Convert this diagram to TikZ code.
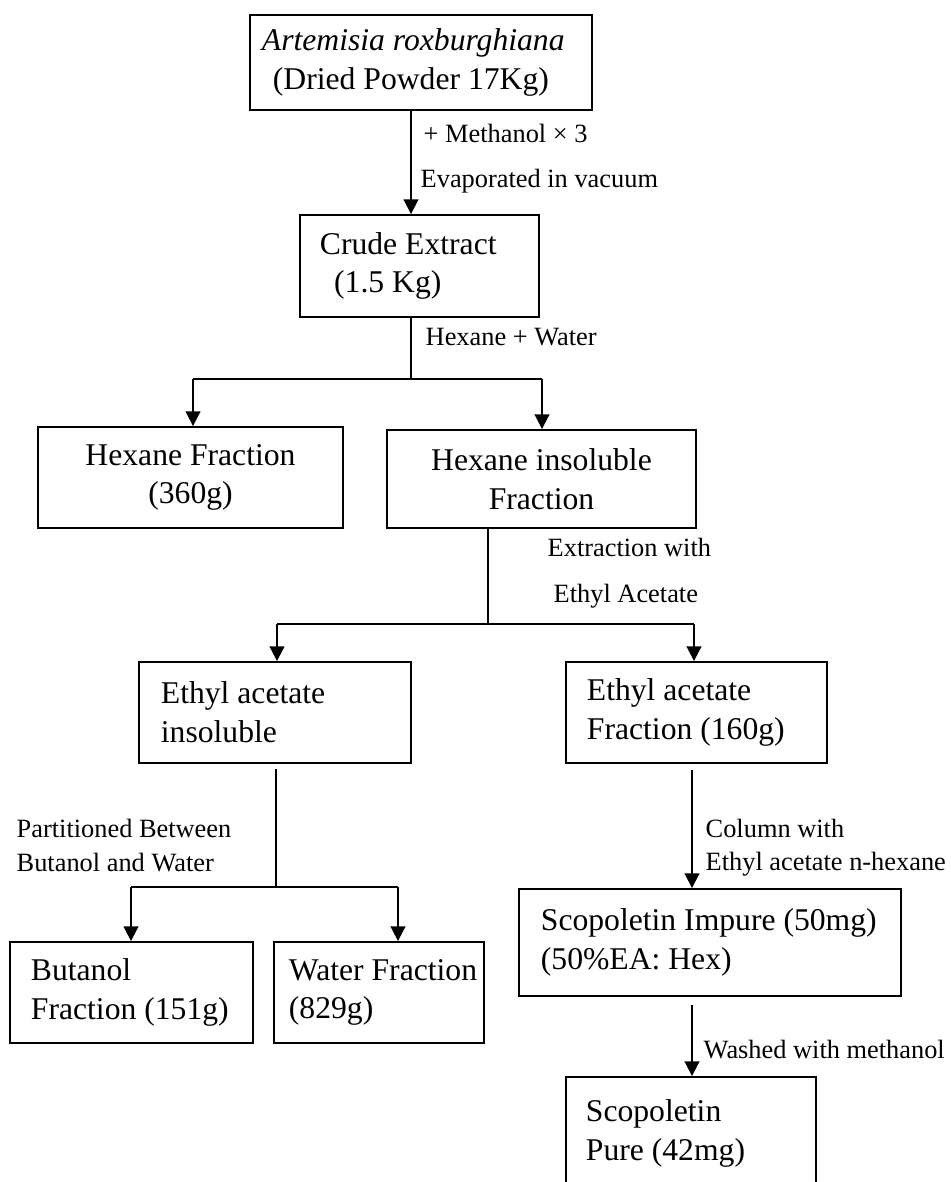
\documentclass[tikz,border=0pt]{standalone}
\usepackage{fontspec}
\setmainfont{Liberation Serif}
\usetikzlibrary{arrows.meta}
\tikzset{
	box/.style={draw, line width=0.5pt, inner ysep=0pt, font=\fontsize{9}{11}\selectfont},
	boxc/.style={box, align=center},
	boxl/.style={box, align=flush left},
	lab/.style={anchor=base west, inner sep=0pt, font=\fontsize{7.5}{9}\selectfont},
	ln/.style={line width=0.5pt},
	bar/.style={line width=0.8pt},
	arr/.style={line width=0.5pt, -{Triangle[length=4.2pt,width=4.2pt]}}
}

\begin{document}
\begin{tikzpicture}[x=0.01cm, y=-0.01cm]
			%%%%% START %%%%%
			\useasboundingbox (0,0) rectangle (950,1182);
			
			\node[boxl, text width=3.18cm, inner xsep=0.12cm, minimum height=0.95cm] (src) at (421,62.5) {\mbox{\textit{Artemisia roxburghiana}}\\\mbox{\hspace*{0.11cm}(Dried Powder 17Kg)}};
			\node[boxl, text width=1.99cm, inner xsep=0.2cm, minimum height=1.02cm] (crude) at (419.5,266) {\mbox{Crude Extract}\\\mbox{\hspace*{0.45em}(1.5 Kg)}};
			
			\node[boxc, minimum width=3.05cm, minimum height=1.01cm] (hexfr) at (190.5,477.5) {Hexane Fraction\\(360g)};
			\node[boxc, minimum width=3.09cm, minimum height=0.98cm] (hexins) at (541.5,479) {Hexane insoluble\\Fraction};
			
			\node[boxl, text width=2.28cm, inner xsep=0.22cm, minimum height=1.01cm] (eains) at (275,712.5) {\mbox{Ethyl acetate}\\\mbox{insoluble}};
			\node[boxl, text width=2.19cm, inner xsep=0.21cm, minimum height=1.01cm] (eafr) at (696.5,712.5) {\mbox{Ethyl acetate}\\\mbox{Fraction (160g)}};
			
			\node[boxl, text width=2.01cm, inner xsep=0.21cm, minimum height=1.01cm] (but) at (131.5,992.5) {\mbox{Butanol}\\\mbox{Fraction (151g)}};
			\node[boxl, text width=1.80cm, inner xsep=0.15cm, minimum height=1.01cm] (water) at (379,992.5) {\mbox{Water Fraction}\\\mbox{(829g)}};
			
			\node[boxl, text width=3.38cm, inner xsep=0.22cm, minimum height=1.07cm] (scimp) at (710,942.5) {\mbox{Scopoletin Impure (50mg)}\\\mbox{(50\%EA: Hex)}};
			\node[boxl, text width=2.10cm, inner xsep=0.20cm, minimum height=1.13cm] (scpure) at (691,1133.5) {\mbox{Scopoletin}\\\mbox{Pure (42mg)}};
			
			% junctions
			\coordinate (c0) at (411,0);
			\coordinate (j1l) at (193,379);
			\coordinate (j1) at (411,379);
			\coordinate (j1r) at (542,379);
			\coordinate (j2l) at (277,624);
			\coordinate (j2) at (488,624);
			\coordinate (j2r) at (694,624);
			\coordinate (j3a) at (276,769);
			\coordinate (j3l) at (131,887);
			\coordinate (j3) at (276,887);
			\coordinate (j3r) at (398,887);
			\coordinate (c4) at (692,770);
			\coordinate (c5) at (692,1005);
			
			\draw[arr] (src.south -| c0) -- (crude.north -| c0);
			
			\draw[ln] (crude.south -| j1) -- (j1);
			\draw[bar] (j1l) -- (j1r);
			\draw[arr] (j1l) -- (hexfr.north -| j1l);
			\draw[arr] (j1r) -- (hexins.north -| j1r);
			
			\draw[ln] (hexins.south -| j2) -- (j2);
			\draw[bar] (j2l) -- (j2r);
			\draw[arr] (j2l) -- (eains.north -| j2l);
			\draw[arr] (j2r) -- (eafr.north -| j2r);
			
			\draw[ln] (j3a) -- (j3);
			\draw[bar] (j3l) -- (j3r);
			\draw[arr] (j3l) -- (but.north -| j3l);
			\draw[arr] (j3r) -- (water.north -| j3r);
			
			\draw[arr] (c4) -- (scimp.north -| c4);
			\draw[arr] (c5) -- (scpure.north -| c5);
			
			% labels
			\node[lab] (l1a) at (423,143) {+ Methanol × 3};
			\node[lab] (l1b) at (420,188) {Evaporated in vacuum};
			\node[lab] (l2) at (425,345) {Hexane + Water};
			\node[lab] (l3a) at (547,556) {Extraction with};
			\node[lab] (l3b) at (553,602) {Ethyl Acetate};
			\node[lab] (l4a) at (16,837) {Partitioned Between};
			\node[lab] (l4b) at (16,871) {Butanol and Water};
			\node[lab] (l5a) at (705,837) {Column with};
			\node[lab] (l5b) at (705,870) {Ethyl acetate n-hexane};
			\node[lab] (l6) at (703,1058) {Washed with methanol};
			%%%%% END %%%%%
\end{tikzpicture}
\end{document}
